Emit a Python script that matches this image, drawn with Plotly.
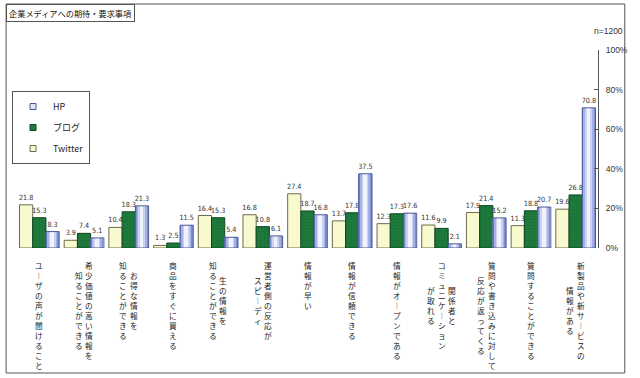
import plotly.graph_objects as go

# ---------------- data ----------------
categories = [
    "ユーザの声が聞けること",
    "希少価値の高い情報を|知ることができる",
    "お得な情報を|知ることができる",
    "商品をすぐに買える",
    "生の情報を|知ることができる",
    "運営者側の反応が|スピーディ",
    "情報が早い",
    "情報が信頼できる",
    "情報がオープンである",
    "関係者と|コミュニケーション|が取れる",
    "質問や書き込みに対して|反応が返ってくる",
    "質問することができる",
    "新製品や新サービスの|情報がある",
]
twitter = [21.8, 3.9, 10.4, 1.3, 16.4, 16.8, 27.4, 13.7, 12.3, 11.6, 17.9, 11.3, 19.6]
blog = [15.3, 7.4, 18.3, 2.5, 15.3, 10.8, 18.7, 17.8, 17.3, 9.9, 21.4, 18.8, 26.8]
hp = [8.3, 5.1, 21.3, 11.5, 5.4, 6.1, 16.8, 37.5, 17.6, 2.1, 15.2, 20.7, 70.8]
series_names = {"hp": "HP", "blog": "ブログ", "twitter": "Twitter"}
y_ticks = [0, 20, 40, 60, 80, 100]
title_text = "企業メディアへの期待・要求事項"
n_note = "n=1200"

# ---------------- layout helpers ----------------
W, H = 640, 378
PL, PR, PT, PB = 17, 603, 50, 248   # plot area in pixels


def pxx(px):
    return (px - PL) / (PR - PL)


def pxy(py):
    return (PB - py) / (PB - PT)


FONT = "Noto Sans CJK JP, Noto Sans, sans-serif"
NUMFONT = "DejaVu Sans Condensed, Liberation Sans Narrow, Liberation Sans, Arial, sans-serif"
x = categories
bw = 0.296
off_tw, off_bl, off_hp = -0.444, -0.148, 0.148
txt_font = dict(family=NUMFONT, size=7.2, color="#333333")

fig = go.Figure()

# Twitter
fig.add_trace(go.Bar(
    x=x, y=twitter, width=bw, offset=off_tw, showlegend=False,
    marker=dict(color="#f9f9cf", line=dict(color="#6b6b4c", width=1)),
    text=[f"{v:.1f}" for v in twitter], textposition="outside",
    constraintext="none", textfont=txt_font, cliponaxis=False, hoverinfo="y",
))
# Blog
fig.add_trace(go.Bar(
    x=x, y=blog, width=bw, offset=off_bl, showlegend=False,
    marker=dict(color="#1e7b3c", line=dict(color="#0c4620", width=1),
                pattern=dict(shape="+", size=3, solidity=0.25,
                             fgcolor="#125e2b", bgcolor="#1e7b3c")),
    text=[f"{v:.1f}" for v in blog], textposition="outside",
    constraintext="none", textfont=txt_font, cliponaxis=False, hoverinfo="y",
))
# HP (gradient built from layered widths)
hp_layers = [(1.0, "#7f8ed2"), (0.76, "#a5b0e3"), (0.52, "#cbd2f1"), (0.28, "#f0f2fc")]
for frac, col in hp_layers:
    w = bw * frac
    c = off_hp + bw * 0.47
    fig.add_trace(go.Bar(
        x=x, y=hp, width=w, offset=c - w / 2, showlegend=False,
        marker=dict(color=col, line=dict(width=0)), hoverinfo="skip",
    ))
fig.add_trace(go.Bar(
    x=x, y=hp, width=bw, offset=off_hp, showlegend=False,
    marker=dict(color="rgba(0,0,0,0)", line=dict(color="#4a5896", width=1)),
    text=[f"{v:.1f}" for v in hp], textposition="outside",
    constraintext="none", textfont=txt_font, cliponaxis=False, hoverinfo="y",
))

# legend entries
legend_styles = [
    ("hp", "#dfe4f7", "#4a5896"),
    ("blog", "#1e7b3c", "#0c4620"),
    ("twitter", "#f9f9cf", "#6b6b4c"),
]
for key, fc, lc in legend_styles:
    fig.add_trace(go.Scatter(
        x=[None], y=[None], mode="markers", name=series_names[key],
        legendgroup=key,
        marker=dict(symbol="square", size=6, color=fc, line=dict(color=lc, width=1)),
    ))

# vertical category labels
VERT = {"ー": "︱"}
pitch = 10.0
lab_fs = pitch / 1.3
col_gap = 10.5
label_top = 260
annotations = []
for i, cat in enumerate(categories):
    cols = cat.split("|")
    n = len(cols)
    maxlen = max(len(c) for c in cols)
    cy = label_top + maxlen * pitch / 2
    for j, col in enumerate(cols):
        shift = ((n - 1) / 2 - j) * col_gap
        text = "<br>".join(VERT.get(ch, ch) for ch in col)
        annotations.append(dict(
            x=i, xref="x", y=pxy(cy), yref="paper", text=text, showarrow=False,
            xshift=shift, xanchor="center", yanchor="middle",
            font=dict(family=FONT, size=lab_fs, color="#222222"),
        ))

annotations.append(dict(
    x=pxx(6), xref="paper", y=pxy(4), yref="paper", text=title_text,
    showarrow=False, xanchor="left", yanchor="top",
    bordercolor="#555555", borderwidth=1, borderpad=2, bgcolor="white",
    font=dict(family=FONT, size=8.2, color="#111111"),
))
annotations.append(dict(
    x=pxx(630), xref="paper", y=pxy(31), yref="paper", text=n_note,
    showarrow=False, xanchor="right", yanchor="middle",
    font=dict(family="Liberation Sans, Arial, sans-serif", size=8.5, color="#333333"),
))

shapes = [dict(
    type="rect", xref="paper", yref="paper",
    x0=pxx(6), x1=pxx(630), y0=pxy(373), y1=pxy(4),
    line=dict(color="#555555", width=1), fillcolor="rgba(0,0,0,0)", layer="below",
)]

fig.update_layout(
    width=W, height=H, autosize=False,
    margin=dict(l=PL, r=W - PR, t=PT, b=H - PB, pad=0),
    paper_bgcolor="white", plot_bgcolor="white",
    barmode="overlay",
    font=dict(family=FONT, size=9, color="#333333"),
    showlegend=True,
    legend=dict(
        x=pxx(12), y=pxy(91), xanchor="left", yanchor="top",
        bordercolor="#555555", borderwidth=1, bgcolor="white",
        font=dict(family=FONT, size=9, color="#222222"),
        traceorder="grouped", tracegroupgap=2,
        itemwidth=30,
    ),
    xaxis=dict(
        type="category", range=[-0.5, len(categories) - 0.5],
        showticklabels=False, showgrid=False, showline=False, zeroline=False,
        ticks="", fixedrange=True,
    ),
    yaxis=dict(
        side="right", range=[0, 100], tickvals=y_ticks,
        ticktext=[f"{v}%" for v in y_ticks], ticks="inside", ticklen=4,
        tickcolor="#555555", showline=True, linecolor="#555555", linewidth=1,
        showgrid=False, zeroline=False, ticklabelstandoff=5,
        tickfont=dict(family="Liberation Sans, Arial, sans-serif", size=8.5,
                      color="#333333"),
        fixedrange=True,
    ),
    annotations=annotations,
    shapes=shapes,
    bargap=0,
)

fig.write_html(
    "out.html",
    config={"displayModeBar": False, "staticPlot": True},
    post_script="document.body.style.margin='0';document.body.style.overflow='hidden';",
)
